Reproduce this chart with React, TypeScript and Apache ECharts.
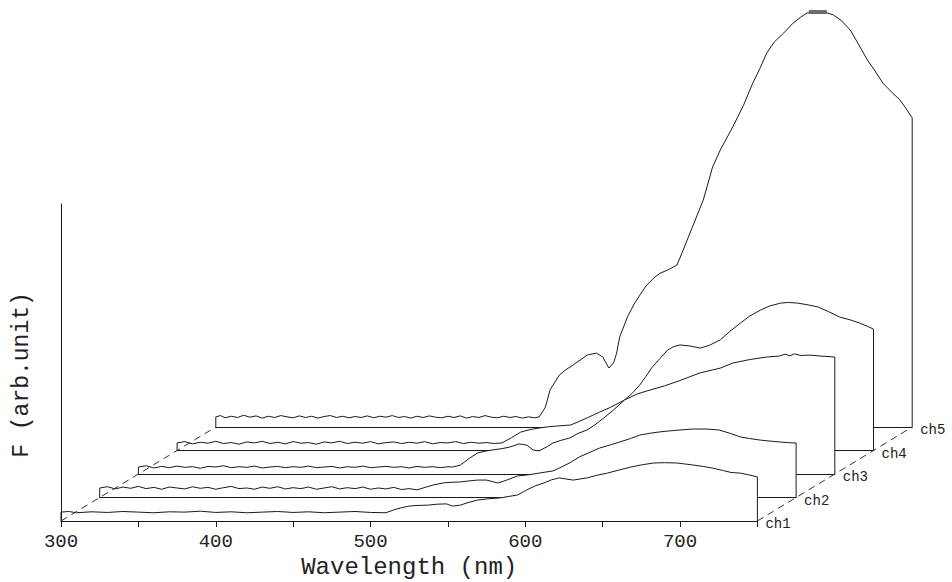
import React, { useEffect, useRef } from "react";
import * as echarts from "echarts";

// ---- data (wavelength nm, F arb. unit) ----
const CHANNEL_NAMES = ["ch1", "ch2", "ch3", "ch4", "ch5"];
const X_TICK_LABELS = [300, 400, 500, 600, 700];

const ch1: number[][] = [[300,0],[300,2.8],[305,3.0],[310,2.6],[320,2.9],[330,2.7],[340,3.0],[350,2.8],[360,2.6],[370,2.9],[380,2.8],[390,3.1],[400,2.7],[410,2.9],[420,2.6],[430,2.8],[440,3.0],[450,2.7],[460,2.9],[470,2.6],[480,2.8],[490,3.0],[500,2.7],[510,2.6],[515,3.5],[520,4.2],[525,4.7],[530,4.9],[537,5.0],[543,5.3],[549,5.4],[553,4.7],[558,5.0],[563,5.8],[569,6.6],[576,7.0],[584,7.3],[590,7.8],[595,8.2],[601,9.8],[606,11.0],[612,12.0],[617,13.0],[622,13.6],[627,13.2],[631,12.9],[636,13.3],[640,13.6],[646,14.4],[653,15.1],[660,16.0],[668,17.0],[675,17.7],[683,18.3],[690,18.4],[698,18.3],[703,18.0],[708,17.7],[715,17.2],[721,16.7],[728,15.9],[733,15.3],[739,15.1],[745,14.5],[750,13.9],[750,0]];

const ch2: number[][] = [[300,0],[300,3.0],[305,3.4],[310,2.7],[315,3.3],[320,2.9],[325,3.5],[330,2.8],[335,3.2],[340,2.6],[345,3.3],[350,3.0],[355,2.7],[360,3.4],[365,2.9],[370,3.2],[375,2.6],[380,3.1],[385,3.5],[390,2.8],[395,3.0],[400,2.6],[405,3.3],[410,2.9],[415,3.4],[420,2.7],[425,3.1],[430,2.8],[435,3.3],[440,2.6],[445,3.0],[450,3.4],[455,2.7],[460,3.1],[465,2.8],[470,3.3],[475,2.6],[480,3.0],[485,2.7],[490,3.2],[495,2.5],[500,2.8],[505,2.4],[511,3.3],[516,4.0],[522,4.6],[527,4.8],[533,4.9],[538,5.2],[544,5.5],[550,5.5],[554,5.0],[557,4.6],[560,5.0],[563,5.5],[570,6.8],[576,7.1],[584,7.7],[593,8.4],[597,9.3],[604,11.0],[610,12.8],[617,14.3],[623,15.6],[630,16.6],[636,17.5],[643,18.6],[649,19.7],[656,20.3],[662,20.7],[668,21.0],[675,21.3],[683,21.6],[692,21.6],[700,21.3],[707,20.3],[714,19.1],[720,18.6],[727,18.1],[733,17.8],[740,17.5],[745,17.3],[750,17.2],[750,0]];

const ch3: number[][] = [[300,0],[300,2.2],[305,2.6],[310,1.9],[315,2.4],[320,2.0],[325,2.5],[330,2.1],[335,2.3],[340,1.8],[345,2.4],[350,2.2],[355,2.6],[360,2.0],[365,2.3],[370,2.1],[375,2.5],[380,1.9],[385,2.2],[390,2.4],[395,2.0],[400,2.3],[405,2.1],[410,2.5],[415,2.0],[420,2.2],[425,2.4],[430,1.9],[435,2.3],[440,2.1],[445,2.5],[450,2.0],[455,2.2],[460,2.4],[465,2.1],[470,2.3],[475,1.9],[480,2.4],[485,2.1],[490,2.3],[495,2.0],[500,2.3],[503,2.2],[508,2.8],[514,5.0],[519,6.6],[524,7.2],[529,7.6],[535,8.0],[540,8.5],[546,9.5],[551,9.1],[555,7.6],[559,7.3],[564,8.6],[568,9.8],[573,10.6],[579,11.4],[584,12.8],[590,13.9],[595,15.5],[600,17.4],[607,20.2],[614,23.3],[622,25.2],[630,26.4],[640,27.8],[650,29.5],[663,31.9],[676,33.4],[684,35.0],[695,36.1],[706,36.9],[714,37.2],[718,37.8],[721,37.3],[724,37.9],[728,37.4],[734,37.5],[741,37.2],[750,36.9],[750,0]];

const ch4: number[][] = [[300,0],[300,2.4],[305,2.8],[310,2.1],[315,2.6],[320,2.3],[325,2.9],[330,2.2],[335,2.5],[340,2.0],[345,2.7],[350,2.4],[355,2.9],[360,2.2],[365,2.6],[370,2.1],[375,2.8],[380,2.3],[385,2.5],[390,2.0],[395,2.7],[400,2.4],[405,2.9],[410,2.2],[415,2.6],[420,2.3],[425,2.8],[430,2.1],[435,2.5],[440,2.7],[445,2.2],[450,2.6],[455,2.3],[460,2.8],[465,2.1],[470,2.5],[475,2.4],[480,2.8],[485,2.2],[490,2.6],[495,2.3],[500,2.5],[505,2.2],[510,2.4],[516,4.0],[522,5.8],[528,6.6],[534,7.1],[540,7.5],[545,7.7],[550,7.9],[554,8.0],[559,9.0],[565,10.3],[569,11.2],[573,12.1],[580,13.6],[589,15.9],[594,18.0],[599,20.7],[603,23.4],[607,26.3],[612,29.0],[617,31.7],[621,32.8],[625,33.3],[631,33.0],[638,32.3],[644,33.2],[651,34.9],[657,37.5],[664,40.2],[670,42.4],[677,44.3],[683,45.6],[690,46.5],[695,46.7],[701,46.5],[707,46.0],[714,45.3],[721,43.8],[728,42.1],[735,41.2],[741,40.2],[746,39.2],[750,38.3],[750,0]];

const ch5: number[][] = [[300,0],[300,3.2],[303,3.6],[306,2.9],[310,3.4],[314,3.0],[318,3.7],[322,3.1],[326,3.5],[330,2.8],[334,3.4],[338,3.0],[342,3.6],[346,3.2],[350,2.9],[354,3.5],[358,3.0],[362,3.4],[366,2.8],[370,3.3],[374,3.6],[378,3.0],[382,3.4],[386,2.9],[390,3.3],[394,3.0],[398,3.5],[402,2.9],[406,3.4],[410,3.1],[414,3.6],[418,3.0],[422,3.3],[426,2.8],[430,3.4],[434,3.0],[438,3.5],[442,3.1],[446,2.9],[450,3.4],[454,3.0],[458,3.5],[462,2.8],[466,3.3],[470,3.0],[474,3.6],[478,3.1],[482,2.9],[486,3.4],[490,3.0],[494,3.3],[498,2.8],[502,3.2],[506,2.9],[509,3.2],[513,6.3],[516,11.7],[522,16.4],[526,18.0],[531,19.6],[536,21.3],[540,22.7],[546,23.3],[550,22.1],[554,18.6],[557,20.2],[559,23.3],[561,28.4],[566,34.7],[570,38.5],[574,41.6],[578,44.5],[583,47.0],[587,48.5],[592,49.5],[598,51.1],[602,55.8],[608,63.1],[615,71.6],[621,82.0],[626,87.4],[634,94.6],[641,101.5],[647,108.5],[652,113.5],[656,118.0],[661,121.5],[667,124.3],[673,127.4],[678,129.3],[682,130.6],[689,130.9],[694,130.8],[699,130.0],[704,128.3],[710,125.2],[715,121.0],[721,115.8],[726,112.3],[731,108.5],[737,105.5],[742,103.2],[746,100.5],[750,97.5],[750,0]];

const CHANNELS = [ch1, ch2, ch3, ch4, ch5];

// ---- layout ----
const G_LEFT = 61;
const G_TOP = 204;
const G_W = 696.4;
const G_H = 317;
const DX = 38.7;
const DY = 23.5;
const FONT = '"Liberation Mono", "DejaVu Sans Mono", monospace';
const INK = "#1a1a1a";

export default function App() {
  const ref = useRef<HTMLDivElement>(null);
  useEffect(() => {
    if (!ref.current) return;
    const chart = echarts.init(ref.current, null, { renderer: "svg" });
    const n = CHANNELS.length;
    const grids = CHANNELS.map((_, i) => ({
      left: G_LEFT + DX * i,
      top: G_TOP - DY * i,
      width: G_W,
      height: G_H,
      containLabel: false,
      outerBoundsMode: "none",
    }));
    const xAxes = CHANNELS.map((_, i) => ({
      type: "value",
      gridIndex: i,
      min: 300,
      max: 750,
      interval: 50,
      z: 11 - 2 * i,
      axisLine: { show: true, onZero: false, lineStyle: { color: INK, width: 1 } },
      axisTick: { show: i === 0, length: 6, lineStyle: { color: INK } },
      axisLabel: {
        show: i === 0,
        margin: 11,
        fontFamily: FONT,
        fontSize: 19,
        color: "#222",
        formatter: (v: number) => (X_TICK_LABELS.includes(v) ? String(v) : ""),
      },
      splitLine: { show: false },
      name: i === 0 ? "Wavelength (nm)" : "",
      nameLocation: "middle",
      nameGap: 33,
      nameTextStyle: { fontFamily: FONT, fontSize: 24, color: "#222" },
    }));
    const yAxes = CHANNELS.map((_, i) => ({
      type: "value",
      gridIndex: i,
      min: 0,
      max: 100,
      show: i === 0,
      z: 11,
      axisLine: { show: true, lineStyle: { color: INK, width: 1 } },
      axisTick: { show: false },
      axisLabel: { show: false },
      splitLine: { show: false },
    }));
    const series = CHANNELS.map((data, i) => ({
      type: "line",
      name: CHANNEL_NAMES[i],
      xAxisIndex: i,
      yAxisIndex: i,
      data,
      z: 10 - 2 * i,
      clip: false,
      showSymbol: false,
      symbol: "none",
      silent: true,
      lineStyle: { color: INK, width: 1 },
      areaStyle: { color: "#ffffff", opacity: 1 },
      emphasis: { disabled: true },
      endLabel: {
        show: true,
        formatter: CHANNEL_NAMES[i],
        fontFamily: FONT,
        fontSize: 14,
        color: "#222",
        distance: 8,
        offset: [0, 3],
      },
    }));
    const baseY = G_TOP + G_H;
    const baseGraphic: any[] = [
      {
        type: "line",
        z: 30,
        silent: true,
        shape: { x1: G_LEFT, y1: baseY, x2: G_LEFT + DX * (n - 1), y2: baseY - DY * (n - 1) },
        style: { stroke: "#333", lineWidth: 1, lineDash: [7, 5] },
      },
      {
        type: "line",
        z: 30,
        silent: true,
        shape: {
          x1: G_LEFT + G_W,
          y1: baseY,
          x2: G_LEFT + G_W + DX * (n - 1),
          y2: baseY - DY * (n - 1),
        },
        style: { stroke: "#333", lineWidth: 1, lineDash: [7, 5] },
      },
      {
        type: "text",
        x: 22,
        y: 375,
        rotation: Math.PI / 2,
        silent: true,
        style: {
          text: "F (arb.unit)",
          fontFamily: FONT,
          fontSize: 23,
          fill: "#222",
          align: "center",
          verticalAlign: "middle",
          textAlign: "center",
          textVerticalAlign: "middle",
        },
      },
    ];
    chart.setOption({
      animation: false,
      backgroundColor: "#ffffff",
      textStyle: { fontFamily: FONT },
      grid: grids,
      xAxis: xAxes,
      yAxis: yAxes,
      series,
      graphic: baseGraphic,
    });
    // peak marker on the tallest channel, placed through the chart's own scales
    const last = CHANNELS[n - 1];
    let peak = last[0];
    last.forEach((p) => {
      if (p[1] > peak[1]) peak = p;
    });
    const px = chart.convertToPixel({ gridIndex: n - 1 }, peak) as number[];
    if (px && isFinite(px[0]) && isFinite(px[1])) {
      chart.setOption({
        graphic: [
          ...baseGraphic,
          {
            type: "rect",
            z: 40,
            silent: true,
            shape: { x: px[0] - 9, y: px[1] - 2, width: 18, height: 4 },
            style: { fill: "#6a6a6a" },
          },
        ],
      });
    }
    return () => chart.dispose();
  }, []);
  return (
    <div
      ref={ref}
      style={{ position: "fixed", left: 0, top: 0, width: 952, height: 582, background: "#fff" }}
    />
  );
}
